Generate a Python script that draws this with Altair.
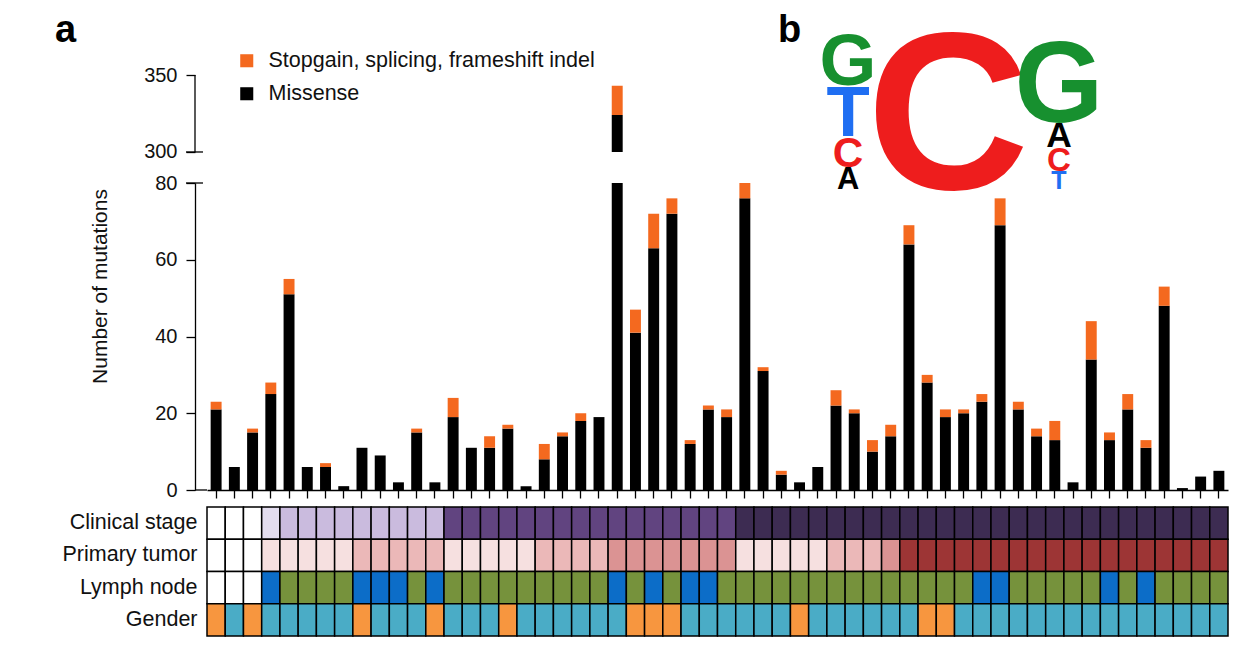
import altair as alt
import pandas as pd

# ---------------- data ----------------
samples = list(range(1, 57))
missense = [21, 6, 15, 25, 51, 6, 6, 1, 11, 9, 2, 15, 2, 19, 11, 11, 16, 1, 8, 14,
            18, 19, 324, 41, 63, 72, 12, 21, 19, 76, 31, 4, 2, 6, 22, 20, 10, 14, 64, 28,
            19, 20, 23, 69, 21, 14, 13, 2, 34, 13, 21, 11, 48, 0.5, 3.5, 5]
truncating = [2, 0, 1, 3, 4, 0, 1, 0, 0, 0, 0, 1, 0, 5, 0, 3, 1, 0, 4, 1,
              2, 0, 19, 6, 9, 4, 1, 1, 2, 4, 1, 1, 0, 0, 4, 1, 3, 3, 5, 2,
              2, 1, 2, 7, 2, 2, 5, 0, 10, 2, 4, 2, 5, 0, 0, 0]

STOP = "Stopgain, splicing, frameshift indel"
MIS = "Missense"
ORANGE = "#f4691f"

# broken y axis: lower panel 0-80, upper panel 300-350
lower_ticks = [0, 20, 40, 60, 80]
upper_ticks = [300, 350]

stage = ["NA", "NA", "NA", "I", "II", "II", "II", "II", "II", "II", "II", "II", "II",
         "III", "III", "III", "III", "III", "III", "III", "III", "III", "III", "III", "III",
         "III", "III", "III", "III",
         "IV", "IV", "IV", "IV", "IV", "IV", "IV", "IV", "IV", "IV", "IV", "IV", "IV", "IV",
         "IV", "IV", "IV", "IV", "IV", "IV", "IV", "IV", "IV", "IV", "IV", "IV", "IV"]
tumor = ["NA", "NA", "NA", "T1", "T1", "T1", "T1", "T1", "T2", "T2", "T2", "T2", "T2",
         "T1", "T1", "T1", "T1", "T1", "T2", "T2", "T2", "T2",
         "T3", "T3", "T3", "T3", "T3", "T3", "T3",
         "T1", "T1", "T1", "T1", "T1", "T2", "T2", "T2", "T3",
         "T4", "T4", "T4", "T4", "T4", "T4", "T4", "T4", "T4", "T4", "T4", "T4", "T4",
         "T4", "T4", "T4", "T4", "T4"]
node = ["NA", "NA", "NA", "N1", "N0", "N0", "N0", "N0", "N1", "N1", "N1", "N0", "N1",
        "N0", "N0", "N0", "N0", "N0", "N0", "N0", "N0", "N0", "N1", "N0", "N1", "N0",
        "N1", "N1", "N0", "N0", "N0", "N0", "N0", "N0", "N0", "N0", "N0", "N0", "N0",
        "N0", "N0", "N0", "N1", "N1", "N0", "N0", "N0", "N0", "N0", "N1", "N0", "N1",
        "N0", "N0", "N0", "N0"]
gender = ["F", "M", "F", "M", "M", "M", "M", "M", "F", "M", "M", "M", "F", "M", "M", "M",
          "F", "M", "M", "M", "M", "M", "M", "F", "F", "F", "M", "M", "M", "M", "M", "M",
          "F", "M", "M", "M", "M", "M", "M", "F", "F", "M", "M", "M", "M", "M", "M", "M",
          "M", "M", "M", "M", "M", "M", "M", "M"]

row_names = ["Clinical stage", "Primary tumor", "Lymph node", "Gender"]
heat_keys = ["Clinical stage:NA", "Clinical stage:I", "Clinical stage:II", "Clinical stage:III", "Clinical stage:IV",
             "Primary tumor:NA", "Primary tumor:T1", "Primary tumor:T2", "Primary tumor:T3", "Primary tumor:T4",
             "Lymph node:NA", "Lymph node:N0", "Lymph node:N1",
             "Gender:F", "Gender:M"]
heat_colors = ["#ffffff", "#e3ddef", "#cabbde", "#614480", "#3d2c52",
               "#ffffff", "#f6e0e0", "#ebb8b8", "#db9393", "#9d3535",
               "#ffffff", "#76923c", "#0c6dc8",
               "#f7963f", "#4aacc6"]

# sequence logo (bottom-up within each position)
logo_pos = [1, 1, 1, 1, 2, 3, 3, 3, 3]
logo_letter = ["A", "C", "T", "G", "C", "T", "C", "A", "G"]
logo_bits = [0.27, 0.37, 0.62, 0.64, 1.97, 0.22, 0.29, 0.31, 1.0]

# ---------------- tables ----------------
brows = []
for s, m, t in zip(samples, missense, truncating):
    brows.append({"sample": s, "kind": MIS, "lo": 0, "hi": m})
    if t > 0:
        brows.append({"sample": s, "kind": STOP, "lo": m, "hi": m + t})
bars = pd.DataFrame(brows)

hrows = []
for s, a, b, c, d in zip(samples, stage, tumor, node, gender):
    for name, v in zip(row_names, [a, b, c, d]):
        hrows.append({"sample": s, "row": name, "key": name + ":" + v})
heat = pd.DataFrame(hrows)

lrows = []
cum = {}
for p, l, b in zip(logo_pos, logo_letter, logo_bits):
    base = cum.get(p, 0.0)
    lrows.append({"pos": p, "letter": l, "bits": b, "base": base})
    cum[p] = base + b
logo = pd.DataFrame(lrows)

W = 1021
FONT = "Liberation Sans"
TXT = "#111111"
AX = -12  # y-axis line sits a little left of the plot area

kind_scale = alt.Scale(domain=[STOP, MIS], range=[ORANGE, "#000000"])
bar_x_scale = alt.Scale(domain=samples, paddingInner=0.4, paddingOuter=0.2)

# ---------------- top panel (300-350) ----------------
top_scale = alt.Scale(domain=[290.9, 350], nice=False, zero=False)
top_axis = alt.Axis(values=upper_ticks, domain=False, tickSize=9, tickColor="black",
                    tickWidth=1.3, labelFontSize=20, labelPadding=9, labelColor=TXT,
                    title=None, grid=False, offset=12)

top_bars = alt.Chart(bars).transform_filter("datum.hi > 300").transform_calculate(
    lo2="max(datum.lo, 300)"
).mark_bar().encode(
    x=alt.X("sample:O", scale=bar_x_scale, axis=None),
    y=alt.Y("lo2:Q", scale=top_scale, axis=top_axis),
    y2="hi:Q",
    color=alt.Color("kind:N", scale=kind_scale,
                    legend=alt.Legend(title=None, orient="none", legendX=29, legendY=-25,
                                      symbolType="square", symbolSize=170, symbolStrokeWidth=0,
                                      symbolOpacity=1, labelFontSize=21.5, labelOffset=11,
                                      rowPadding=10, padding=0, labelColor=TXT, labelLimit=0)),
)
top_rule = alt.Chart(pd.DataFrame({"lo2": [300], "hi": [350]})).mark_rule(
    color="black", strokeWidth=1.3
).encode(
    x=alt.value(AX),
    y=alt.Y("lo2:Q", scale=top_scale, axis=top_axis),
    y2="hi:Q",
)
top_cap = alt.Chart(pd.DataFrame({"lo2": [300]})).mark_rule(
    color="black", strokeWidth=1.3
).encode(
    x=alt.value(AX - 9), x2=alt.value(AX + 8),
    y=alt.Y("lo2:Q", scale=top_scale, axis=top_axis),
)

logo_chart = alt.Chart(logo).mark_text(
    font=FONT, fontWeight="bold", align="center", baseline="alphabetic"
).encode(
    x=alt.X("pos:Q", scale=alt.Scale(domain=[1, 2, 3], range=[641, 741, 852]), axis=None),
    y=alt.Y("base:Q", scale=alt.Scale(domain=[0, 2], range=[114, -50.4], nice=False, zero=False), axis=None),
    size=alt.Size("bits:Q", scale=alt.Scale(domain=[0, 2], range=[0, 228.4]), legend=None),
    color=alt.Color("letter:N", scale=alt.Scale(domain=["A", "C", "G", "T"],
                                                range=["#000000", "#ee1d1d", "#17902f", "#1f6ef2"]),
                    legend=None),
    text="letter:N",
)

lab_df = pd.DataFrame({"t": ["x"]})
lab_a = alt.Chart(lab_df).mark_text(text="a", font=FONT, fontWeight="bold", fontSize=38,
                                    align="left", baseline="alphabetic", color="black").encode(
    x=alt.value(-152), y=alt.value(-33))
lab_b = alt.Chart(lab_df).mark_text(text="b", font=FONT, fontWeight="bold", fontSize=38,
                                    align="left", baseline="alphabetic", color="black").encode(
    x=alt.value(571), y=alt.value(-33))

top = alt.layer(alt.layer(top_bars, top_rule, top_cap), logo_chart, lab_a, lab_b).resolve_scale(
    x="independent", y="independent", color="independent", size="independent"
).properties(width=W, height=91)

# ---------------- lower panel (0-80) ----------------
low_scale = alt.Scale(domain=[0, 80], nice=False)
low_axis = alt.Axis(values=lower_ticks, tickSize=9, tickColor="black", tickWidth=1.3,
                    domainColor="black", domainWidth=1.3, labelFontSize=20, labelPadding=9,
                    labelColor=TXT, grid=False, offset=12,
                    title="Number of mutations", titleFontSize=21, titleFontWeight="normal",
                    titleColor=TXT, titleX=-95, titleY=103, titleAngle=270,
                    titleAlign="center", titleBaseline="middle")

low_bars = alt.Chart(bars).mark_bar(clip=True).encode(
    x=alt.X("sample:O", scale=bar_x_scale,
            axis=alt.Axis(labels=False, title=None, ticks=True, tickSize=8, tickColor="black",
                          tickWidth=1.3, domain=True, domainColor="black", domainWidth=1.3,
                          grid=False)),
    y=alt.Y("lo:Q", scale=low_scale, axis=low_axis),
    y2="hi:Q",
    color=alt.Color("kind:N", scale=kind_scale, legend=None),
)
low_cap = alt.Chart(pd.DataFrame({"lo": [80]})).mark_rule(
    color="black", strokeWidth=1.3
).encode(
    x=alt.value(AX - 9), x2=alt.value(AX + 8),
    y=alt.Y("lo:Q", scale=low_scale, axis=low_axis),
)
low_base = alt.Chart(pd.DataFrame({"lo": [0]})).mark_rule(
    color="black", strokeWidth=1.3
).encode(
    x=alt.value(AX), x2=alt.value(0),
    y=alt.Y("lo:Q", scale=low_scale, axis=low_axis),
)
lower = alt.layer(low_bars, low_cap, low_base).properties(width=W, height=307)

# ---------------- annotation heatmap ----------------
heatmap = alt.Chart(heat).mark_rect(stroke="black", strokeWidth=1.5).encode(
    x=alt.X("sample:O", scale=alt.Scale(domain=samples, paddingInner=0, paddingOuter=0), axis=None),
    y=alt.Y("row:N", sort=row_names, scale=alt.Scale(domain=row_names, paddingInner=0, paddingOuter=0),
            axis=alt.Axis(title=None, ticks=False, domain=False, labelFontSize=21.5, labelPadding=10,
                          labelColor=TXT)),
    color=alt.Color("key:N", scale=alt.Scale(domain=heat_keys, range=heat_colors), legend=None),
).properties(width=W, height=129)

chart = alt.vconcat(top, lower, heatmap, spacing=17, bounds="flush").resolve_scale(
    x="independent", y="independent", color="independent", size="independent"
).properties(
    padding={"left": 47, "top": 1, "right": 0, "bottom": 5}
).configure(font=FONT).configure_view(stroke=None)

chart.save("out.html", embed_options={"renderer": "svg", "actions": False})
